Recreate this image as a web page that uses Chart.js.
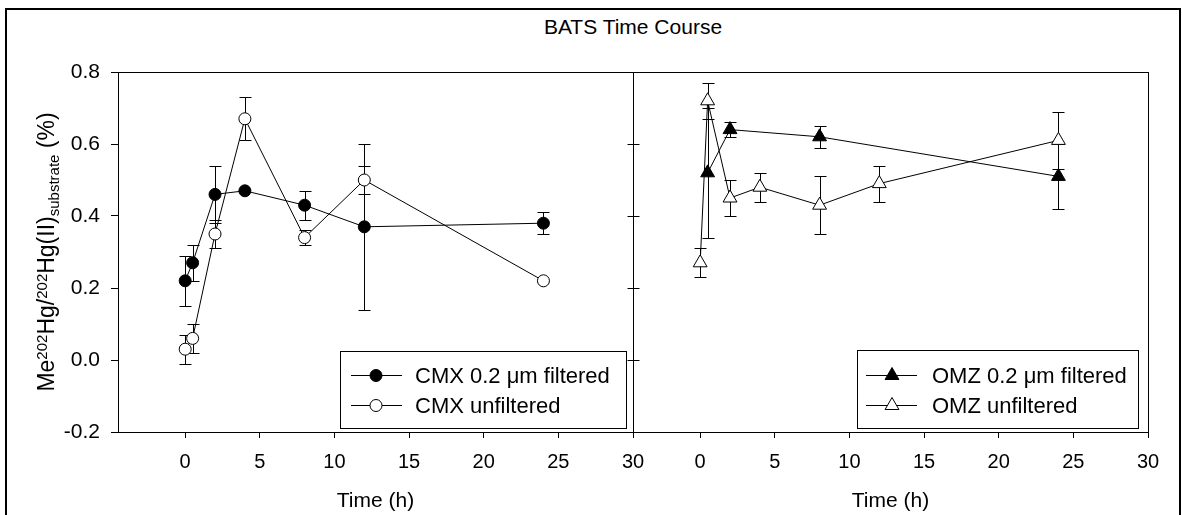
<!DOCTYPE html>
<html>
<head>
<meta charset="utf-8">
<script src="https://cdn.jsdelivr.net/npm/chart.js@4.4.1/dist/chart.umd.min.js"></script>
<style>
html,body{margin:0;padding:0;background:#fff;overflow:hidden}
#wrap{position:relative;width:1182px;height:515px;overflow:hidden}
#frame{position:absolute;left:5px;top:8px;width:1176px;height:600px;border:2px solid #000;border-bottom:none;box-sizing:border-box}
canvas{position:absolute;left:0;top:0}
#title{position:absolute;left:433px;width:400px;top:15px;line-height:24px;text-align:center;font-size:21px;font-family:'Liberation Sans',Arial,sans-serif;color:#000}
</style>
</head>
<body>
<div id="wrap">
  <div id="frame"></div>
  <div id="title">BATS Time Course</div>
  <canvas id="c1" width="1182" height="515"></canvas>
  <canvas id="c2" width="1182" height="515"></canvas>
</div>
<script>
// ---------- data ----------
const xTicks = [0, 5, 10, 15, 20, 25, 30];
const xTickLabels = ['0', '5', '10', '15', '20', '25', '30'];
const yTicks = [-0.2, 0, 0.2, 0.4, 0.6, 0.8];
const yTickLabels = ['-0.2', '0.0', '0.2', '0.4', '0.6', '0.8'];
const xMin = -4.5, xMax = 30, yMin = -0.2, yMax = 0.8;

const chartTitle = 'BATS Time Course';
const xTitle = 'Time (h)';
const yTitleParts = [['Me', 'n'], ['202', 'sup'], ['Hg/', 'n'], ['202', 'sup'], ['Hg(II)', 'n'], ['substrate', 'sub'], [' (%)', 'n']];

const cmxTime = [0, 0.5, 2, 4, 8, 12, 24];
const cmxFiltered = [0.22, 0.27, 0.46, 0.47, 0.43, 0.37, 0.38];
const cmxFilteredErr = [0.07, 0.05, 0.08, 0, 0.04, 0.23, 0.03];
const cmxUnfiltered = [0.03, 0.06, 0.35, 0.67, 0.34, 0.50, 0.22];
const cmxUnfilteredErr = [0.04, 0.04, 0.04, 0.06, 0.02, 0.04, 0];

const omzFilteredTime = [0.5, 2, 8, 24];
const omzFiltered = [0.52, 0.64, 0.62, 0.51];
const omzFilteredErr = [0.18, 0.02, 0.03, 0.09];
const omzUnfilteredTime = [0, 0.5, 2, 4, 8, 12, 24];
const omzUnfiltered = [0.27, 0.72, 0.45, 0.48, 0.43, 0.49, 0.61];
const omzUnfilteredErr = [0.04, 0.05, 0.05, 0.04, 0.08, 0.05, 0.08];

const seriesLabels = ['CMX 0.2 \u03bcm filtered', 'CMX unfiltered', 'OMZ 0.2 \u03bcm filtered', 'OMZ unfiltered'];

// ---------- styles ----------
const FONT = "'Liberation Sans', Arial, sans-serif";
document.getElementById('title').textContent = chartTitle;

function pts(xs, ys) { return xs.map((x, i) => ({ x: x, y: ys[i] })); }

function series(label, xs, ys, errs, style, filled, radius) {
  return {
    label: label,
    data: pts(xs, ys),
    errors: errs,
    showLine: true,
    borderColor: '#000',
    borderWidth: 1,
    tension: 0,
    fill: false,
    pointStyle: style,
    pointRadius: radius,
    pointHoverRadius: radius,
    pointBackgroundColor: filled ? '#000' : '#fff',
    pointBorderColor: '#000',
    pointBorderWidth: 1
  };
}

const errorBarPlugin = {
  id: 'errorBars',
  beforeDatasetsDraw(chart) {
    const ctx = chart.ctx, xs = chart.scales.x, ys = chart.scales.y;
    ctx.save();
    ctx.strokeStyle = '#000';
    ctx.lineWidth = 1;
    chart.data.datasets.forEach(ds => {
      if (!ds.errors) return;
      ds.data.forEach((p, j) => {
        const e = ds.errors[j];
        if (!e) return;
        const x = Math.round(xs.getPixelForValue(p.x)) + 0.5;
        const y1 = Math.round(ys.getPixelForValue(p.y + e)) + 0.5;
        const y2 = Math.round(ys.getPixelForValue(p.y - e)) + 0.5;
        ctx.beginPath();
        ctx.moveTo(x, y1); ctx.lineTo(x, y2);
        ctx.moveTo(x - 6, y1); ctx.lineTo(x + 6, y1);
        ctx.moveTo(x - 6, y2); ctx.lineTo(x + 6, y2);
        ctx.stroke();
      });
    });
    ctx.restore();
  }
};

const framePlugin = {
  id: 'frame',
  afterDraw(chart, args, opts) {
    const a = chart.chartArea, ctx = chart.ctx;
    ctx.save();
    ctx.strokeStyle = '#000';
    ctx.lineWidth = 1;
    const l = Math.round(a.left) + 0.5, t = Math.round(a.top) + 0.5;
    const r = Math.round(a.right) + 0.5, b = Math.round(a.bottom) + 0.5;
    ctx.strokeRect(l, t, r - l, b - t);
    if (opts && opts.crossTicks) {
      const ys = chart.scales.y;
      ctx.beginPath();
      yTicks.forEach(v => {
        const y = Math.round(ys.getPixelForValue(v)) + 0.5;
        ctx.moveTo(l - 6, y); ctx.lineTo(l + 6, y);
      });
      ctx.stroke();
    }
    ctx.restore();
  }
};

function drawMarker(ctx, style, radius, filled, x, y) {
  ctx.fillStyle = filled ? '#000' : '#fff';
  ctx.strokeStyle = '#000';
  ctx.lineWidth = 1;
  if (Chart.helpers && Chart.helpers.drawPoint) {
    Chart.helpers.drawPoint(ctx, { pointStyle: style, radius: radius, rotation: 0, borderWidth: 1 }, x, y);
  } else {
    ctx.beginPath();
    if (style === 'circle') ctx.arc(x, y, radius, 0, Math.PI * 2);
    else {
      for (let k = 0; k < 3; k++) {
        const ang = k * 2 * Math.PI / 3;
        const px = x + Math.sin(ang) * radius, py = y - Math.cos(ang) * radius;
        if (k === 0) ctx.moveTo(px, py); else ctx.lineTo(px, py);
      }
      ctx.closePath();
    }
    ctx.fill(); ctx.stroke();
  }
}

const boxLegendPlugin = {
  id: 'boxLegend',
  afterDraw(chart, args, o) {
    if (!o || !o.show) return;
    const a = chart.chartArea, ctx = chart.ctx;
    const L = Math.round(a.left), T = Math.round(a.top);
    const bx0 = L + o.boxLeft + 0.5, bx1 = Math.round(a.right) - o.boxRightInset + 0.5;
    const by0 = T + o.boxTop + 0.5, by1 = Math.round(a.bottom) - o.boxBottomInset + 0.5;
    ctx.save();
    ctx.fillStyle = '#fff';
    ctx.fillRect(bx0, by0, bx1 - bx0, by1 - by0);
    ctx.strokeStyle = '#000';
    ctx.lineWidth = 1;
    ctx.strokeRect(bx0, by0, bx1 - bx0, by1 - by0);
    chart.data.datasets.forEach((ds, i) => {
      const y = T + o.rowY[i] + 0.5;
      ctx.beginPath();
      ctx.strokeStyle = '#000';
      ctx.moveTo(L + o.lineX0, y); ctx.lineTo(L + o.lineX1, y);
      ctx.stroke();
      drawMarker(ctx, ds.pointStyle, ds.pointRadius, ds.pointBackgroundColor === '#000', L + o.markerX, y);
      ctx.fillStyle = '#000';
      ctx.font = o.fontSize + 'px ' + FONT;
      ctx.textBaseline = 'middle';
      ctx.textAlign = 'left';
      ctx.fillText(ds.label, L + o.textX, y + 1);
    });
    ctx.restore();
  }
};

const yTitlePlugin = {
  id: 'yTitle',
  afterDraw(chart, args, o) {
    if (!o || !o.show) return;
    const ctx = chart.ctx, a = chart.chartArea;
    const sizes = { n: 23, sup: 15, sub: 15 };
    const shift = { n: 0, sup: -7, sub: 5 };
    ctx.save();
    let total = 0;
    const widths = yTitleParts.map(([txt, kind]) => {
      ctx.font = sizes[kind] + 'px ' + FONT;
      const w = ctx.measureText(txt).width;
      total += w;
      return w;
    });
    const cy = (a.top + a.bottom) / 2;
    ctx.translate(o.baselineX, cy);
    ctx.rotate(-Math.PI / 2);
    ctx.fillStyle = '#000';
    ctx.textBaseline = 'alphabetic';
    ctx.textAlign = 'left';
    let x = -total / 2;
    yTitleParts.forEach(([txt, kind], i) => {
      ctx.font = sizes[kind] + 'px ' + FONT;
      ctx.fillText(txt, x, shift[kind]);
      x += widths[i];
    });
    ctx.restore();
  }
};

function xScale(showTitle) {
  return {
    type: 'linear',
    min: xMin, max: xMax,
    afterBuildTicks: s => { s.ticks = xTicks.map(v => ({ value: v })); },
    afterFit: s => { s.height = 83; },
    ticks: {
      autoSkip: false, maxRotation: 0, minRotation: 0,
      color: '#000', padding: 12,
      font: { family: FONT, size: 20 },
      callback: (v, i) => xTickLabels[i]
    },
    grid: { drawOnChartArea: false, drawTicks: true, tickLength: 6, color: '#000', lineWidth: 1 },
    border: { display: true, color: '#000', width: 1 },
    title: { display: showTitle, text: xTitle, color: '#000', font: { family: FONT, size: 21 }, padding: { top: 0, bottom: 1 } }
  };
}

const common = (padding) => ({
  responsive: false,
  animation: false,
  events: [],
  layout: { padding: padding },
  plugins: { legend: { display: false }, tooltip: { enabled: false }, title: { display: false } }
});

// ---------- left panel ----------
const leftOpts = common({ left: 0, top: 72, right: 549, bottom: 0 });
leftOpts.scales = {
  x: xScale(true),
  y: {
    type: 'linear', min: yMin, max: yMax,
    afterBuildTicks: s => { s.ticks = yTicks.map(v => ({ value: v })); },
    afterFit: s => { s.width = 118; },
    ticks: { color: '#000', padding: 11, font: { family: FONT, size: 21 }, callback: (v, i) => yTickLabels[i] },
    grid: { drawOnChartArea: false, drawTicks: true, tickLength: 7, color: '#000', lineWidth: 1 },
    border: { display: true, color: '#000', width: 1 }
  }
};
leftOpts.plugins.frame = {};
leftOpts.plugins.boxLegend = { show: true, boxLeft: 222, boxRightInset: 7, boxTop: 279, boxBottomInset: 4, lineX0: 233, lineX1: 284, markerX: 258, textX: 297, rowY: [303, 333], fontSize: 22 };
leftOpts.plugins.yTitle = { show: true, baselineX: 54 };

new Chart(document.getElementById('c1'), {
  type: 'scatter',
  data: {
    datasets: [
      series(seriesLabels[0], cmxTime, cmxFiltered, cmxFilteredErr, 'circle', true, 6),
      series(seriesLabels[1], cmxTime, cmxUnfiltered, cmxUnfilteredErr, 'circle', false, 6)
    ]
  },
  options: leftOpts,
  plugins: [errorBarPlugin, framePlugin, boxLegendPlugin, yTitlePlugin]
});

// ---------- right panel ----------
const rightOpts = common({ left: 633, top: 72, right: 34, bottom: 0 });
rightOpts.scales = {
  x: xScale(true),
  y: {
    type: 'linear', min: yMin, max: yMax,
    afterBuildTicks: s => { s.ticks = yTicks.map(v => ({ value: v })); },
    afterFit: s => { s.width = 0; },
    ticks: { display: false },
    grid: { drawOnChartArea: false, drawTicks: false, color: '#000' },
    border: { display: true, color: '#000', width: 1 }
  }
};
rightOpts.plugins.frame = { crossTicks: true };
rightOpts.plugins.boxLegend = { show: true, boxLeft: 224, boxRightInset: 10, boxTop: 278, boxBottomInset: 4, lineX0: 233, lineX1: 284, markerX: 259, textX: 299, rowY: [303, 333], fontSize: 22 };
rightOpts.plugins.yTitle = { show: false };

new Chart(document.getElementById('c2'), {
  type: 'scatter',
  data: {
    datasets: [
      series(seriesLabels[2], omzFilteredTime, omzFiltered, omzFilteredErr, 'triangle', true, 8),
      series(seriesLabels[3], omzUnfilteredTime, omzUnfiltered, omzUnfilteredErr, 'triangle', false, 8)
    ]
  },
  options: rightOpts,
  plugins: [errorBarPlugin, framePlugin, boxLegendPlugin, yTitlePlugin]
});
</script>
</body>
</html>
